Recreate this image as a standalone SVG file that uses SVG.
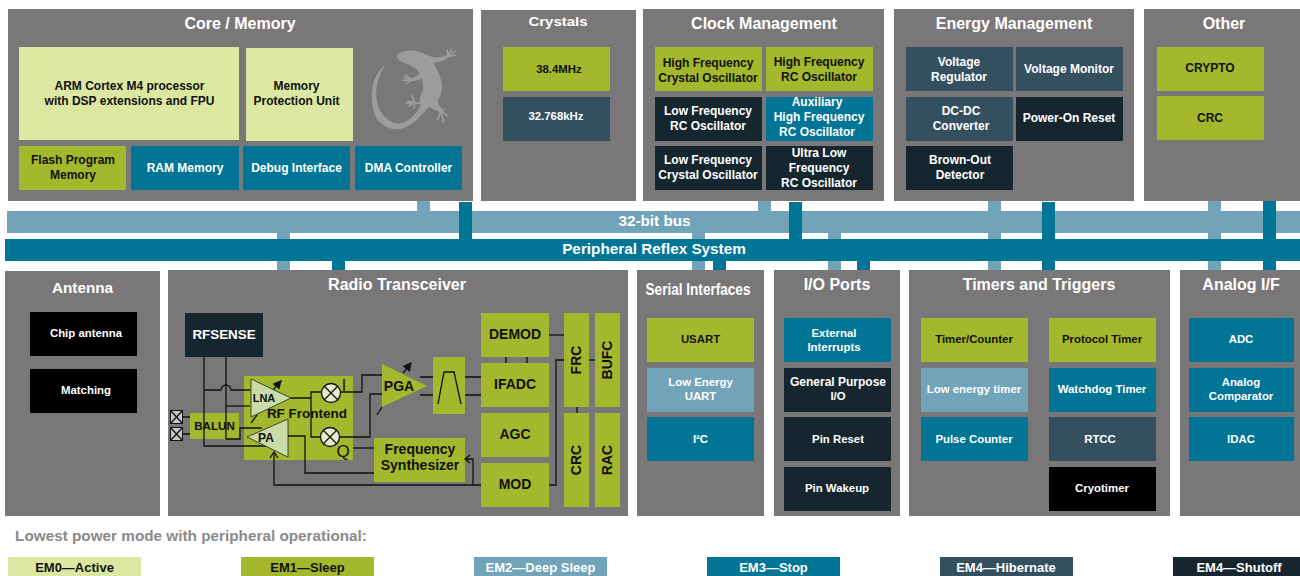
<svg xmlns="http://www.w3.org/2000/svg" width="1300" height="576" viewBox="0 0 1300 576">
<style>
text{font-family:"Liberation Sans",Arial,sans-serif;font-weight:bold;text-anchor:middle}
.p{fill:#7a7778}
.h{fill:#fff;font-size:16px}
.n{font-size:12px}
.s{font-size:11.4px}
.m{font-size:13px}
.w{fill:#fff}
.k{fill:#111}
.lg{fill:#dce8a2}.gr{fill:#a3b82c}.te{fill:#007596}.lb{fill:#71a3b9}.sl{fill:#34505f}.dk{fill:#16262f}.bl{fill:#000}
.c{fill:none;stroke:#111;stroke-width:1.3}
.tri{fill:#c9dba6;stroke:#222;stroke-width:.8}
.mx{fill:#e4eccb;stroke:#111;stroke-width:1.3}
.r{font-size:14px}
</style>
<defs>
<marker id="a" markerWidth="7" markerHeight="7" refX="6" refY="3.5" orient="auto"><path d="M0 0L7 3.5L0 7Z" fill="#111"/></marker>
<marker id="o" markerWidth="8" markerHeight="8" refX="1" refY="4" orient="auto"><path d="M7 0L1 4L7 8" fill="none" stroke="#111" stroke-width="1.2"/></marker>
</defs>
<rect width="1300" height="576" fill="#fff"/>

<g id="buses">
<rect class="lb" x="7" y="211" width="1293" height="22"/>
<g class="lb"><rect x="417" y="201" width="13" height="10"/><rect x="758" y="201" width="13" height="10"/><rect x="988" y="201" width="13" height="70"/><rect x="1208" y="201" width="13" height="69"/><rect x="277" y="233" width="13" height="37"/><rect x="692" y="233" width="13" height="37"/><rect x="828" y="233" width="13" height="37"/></g>
<rect class="te" x="5" y="239" width="1295" height="22"/>
<g class="te"><rect x="459" y="202" width="13" height="37"/><rect x="789" y="202" width="13" height="37"/><rect x="1042" y="202" width="13" height="69"/><rect x="1263" y="201" width="13" height="69"/><rect x="332" y="261" width="13" height="9"/><rect x="713" y="261" width="13" height="9"/><rect x="857" y="261" width="13" height="9"/></g>
<text class="w" x="654.500" y="226" font-size="15.300px">32-bit bus</text>
<text class="w" x="654" y="254" font-size="15.300px">Peripheral Reflex System</text>
</g>

<g id="core"><rect class="p" x="8" y="9" width="465" height="192"/><text class="h" x="240" y="29">Core / Memory</text>
<rect class="lg" x="19" y="47" width="220" height="93"/><text class="n k" x="129.500" y="90">ARM Cortex M4 processor</text><text class="n k" x="129.500" y="105">with DSP extensions and FPU</text>
<rect class="lg" x="246" y="48" width="107" height="93"/><text class="n k" x="296.500" y="90">Memory</text><text class="n k" x="296.500" y="105">Protection Unit</text>
<rect class="gr" x="19" y="146" width="107" height="44"/><text class="n k" x="73" y="164">Flash Program</text><text class="n k" x="73" y="179">Memory</text>
<rect class="te" x="131" y="146" width="108" height="44"/><text class="n w" x="185" y="172">RAM Memory</text>
<rect class="te" x="243" y="146" width="107" height="44"/><text class="n w" x="296.500" y="172">Debug Interface</text>
<rect class="te" x="355" y="146" width="107" height="44"/><text class="n w" x="408.500" y="172">DMA Controller</text>
<g id="gecko" transform="translate(365 40) scale(.3333)"><path fill="#9c9c9c" d="M95 46C105 36 125 30 145 32C165 34 185 44 200 50C215 53 232 53 248 44L252 52C240 62 222 68 205 68C218 90 230 115 231 140C231 160 222 172 218 186C222 197 228 204 236 212L225 216C214 212 205 208 192 200C170 225 145 255 110 266C85 272 55 262 38 240C20 215 16 170 25 130C30 110 42 90 60 74C45 100 32 135 34 170C36 205 55 235 85 248C110 256 135 240 150 222C160 211 167 200 168 190C162 180 163 170 172 158C176 145 175 130 170 115C160 120 150 124 138 124L136 116C148 114 158 108 163 100C155 85 140 76 120 70C105 65 95 58 95 46Z"/><g fill="none" stroke="#9c9c9c" stroke-width="5" stroke-linecap="round"><path d="M248 46L247 30M249 46L259 28M250 47L270 34M250 49L271 45"/><path d="M140 120L118 113M140 120L114 121M140 120L124 131M140 120L120 103"/><path d="M168 190L148 188M150 188L127 183M150 188L124 190M150 188L132 198M150 188L147 204M150 188L140 167"/><path d="M228 212L218 240M228 212L236 247M228 212L248 228M228 212L238 208"/></g></g>
</g>

<g id="crystals"><rect class="p" x="481" y="10" width="155" height="191"/><text class="w" x="558" y="26" font-size="15px" style="font-size:15px;transform-origin:558px 26px;transform:scaleY(.9)">Crystals</text>
<rect class="gr" x="503" y="47" width="107" height="44"/><text class="s k" x="559" y="73">38.4MHz</text>
<rect class="sl" x="503" y="97" width="107" height="44"/><text class="s w" x="556" y="120">32.768kHz</text></g>

<g id="clock"><rect class="p" x="643" y="9" width="241" height="192"/><text class="h" x="764" y="29">Clock Management</text>
<rect class="gr" x="655" y="47" width="107" height="44"/><text class="n k" x="708" y="67">High Frequency</text><text class="n k" x="708" y="82">Crystal Oscillator</text>
<rect class="gr" x="766" y="47" width="107" height="44"/><text class="n k" x="819" y="66">High Frequency</text><text class="n k" x="819" y="81">RC Oscillator</text>
<rect class="dk" x="655" y="97" width="107" height="44"/><text class="n w" x="708" y="115">Low Frequency</text><text class="n w" x="708" y="130">RC Oscillator</text>
<rect class="te" x="766" y="97" width="107" height="44"/><text class="n w" x="817" y="106">Auxiliary</text><text class="n w" x="819" y="121">High Frequency</text><text class="n w" x="817" y="136">RC Oscillator</text>
<rect class="dk" x="655" y="146" width="107" height="44"/><text class="n w" x="708" y="164">Low Frequency</text><text class="n w" x="708" y="179">Crystal Oscillator</text>
<rect class="dk" x="766" y="146" width="107" height="44"/><text class="n w" x="819" y="157">Ultra Low</text><text class="n w" x="819" y="172">Frequency</text><text class="n w" x="819" y="187">RC Oscillator</text></g>

<g id="energy"><rect class="p" x="894" y="9" width="240" height="192"/><text class="h" x="1014" y="29">Energy Management</text>
<rect class="sl" x="906" y="47" width="107" height="44"/><text class="n w" x="959" y="66">Voltage</text><text class="n w" x="959" y="81">Regulator</text>
<rect class="sl" x="1016" y="47" width="107" height="44"/><text class="n w" x="1069" y="73">Voltage Monitor</text>
<rect class="sl" x="906" y="97" width="107" height="44"/><text class="n w" x="961" y="115">DC-DC</text><text class="n w" x="961" y="130">Converter</text>
<rect class="dk" x="1016" y="97" width="107" height="44"/><text class="n w" x="1069" y="122">Power-On Reset</text>
<rect class="dk" x="906" y="146" width="107" height="44"/><text class="n w" x="960" y="164">Brown-Out</text><text class="n w" x="960" y="179">Detector</text></g>

<g id="other"><rect class="p" x="1144" y="9" width="156" height="192"/><text class="h" x="1224" y="29">Other</text>
<rect class="gr" x="1157" y="47" width="107" height="44"/><text class="n k" x="1210" y="72">CRYPTO</text>
<rect class="gr" x="1157" y="96" width="107" height="44"/><text class="n k" x="1210" y="122">CRC</text></g>

<g id="antenna"><rect class="p" x="5" y="271" width="155" height="245"/><text class="h" x="82.500" y="293" style="font-size:15.300px">Antenna</text>
<rect class="bl" x="30" y="312" width="107" height="44"/><text class="s w" x="86" y="337">Chip antenna</text>
<rect class="bl" x="30" y="369" width="107" height="44"/><text class="s w" x="86" y="394">Matching</text></g>

<g id="radio"><rect class="p" x="168" y="270" width="460" height="246"/><text class="h" x="397" y="290">Radio Transceiver</text>
<rect class="gr" x="244" y="376" width="109" height="84"/>
<rect class="gr" x="433" y="357" width="32" height="57"/>
<rect class="gr" x="190" y="413" width="49" height="26"/>
<rect class="gr" x="374" y="438" width="91" height="44"/>
<g id="radio-wires" class="c">
<path d="M204 357V446H272"/><path d="M226 357V439"/>
<path d="M204 390H221A5 5 0 0 1 231 390H250"/><path d="M226 406H250"/>
<path d="M183 417H190M183 434H190"/>
<path d="M226 439H240V428H262"/>
<path d="M291 398H311M321 392H311V437H320"/>
<path d="M341 392H362V375H382"/><path d="M340 437H370V394H382"/>
<path d="M353 448H374"/>
<path d="M420 377H433M420 395H433"/><path d="M465 377H481M465 395H481"/>
<path d="M374 473H305V436H288" marker-end="url(#o)"/>
<path d="M481 485H274V453"/>
<path d="M473 485V459H466"/>
<path d="M270 458L274 452L278 458"/>
<path d="M470 455L465 459L470 463"/>
<path d="M549 335H564"/><path d="M506 357V363M527 357V363"/><path d="M549 485H556V360H564"/><path d="M589 360H595"/><path d="M577 407V413"/>
<path d="M438 404L444 372H454L461 404"/>
<path d="M273 390L281 381" marker-end="url(#a)"/><path d="M251 423L257 415"/>
<path d="M403 373L411 363" marker-end="url(#a)"/><path d="M377 415L382 407"/>
</g>
<path class="tri" d="M251 379L291 398L251 417Z"/>
<path class="tri" d="M247 437L288 419V457Z"/>
<path d="M382 364L427 386L382 407Z" fill="#a3b82c"/>
<g id="mixers"><circle class="mx" cx="331" cy="393" r="9.500"/><path class="c" d="M324.300 386.300L337.700 399.700M337.700 386.300L324.300 399.700"/><circle class="mx" cx="330" cy="437" r="9.500"/><path class="c" d="M323.300 430.300L336.700 443.700M336.700 430.300L323.300 443.700"/></g>
<g id="pads"><rect x="170.500" y="410.500" width="12" height="13" fill="#c5c8c0" stroke="#111"/><path class="c" d="M170.500 410.500L182.500 423.500M182.500 410.500L170.500 423.500"/><rect x="170.500" y="427.500" width="12" height="13" fill="#c5c8c0" stroke="#111"/><path class="c" d="M170.500 427.500L182.500 440.500M182.500 427.500L170.500 440.500"/></g>
<rect class="dk" x="185" y="313" width="78" height="44"/><text class="w" x="224" y="339" font-size="13.400px">RFSENSE</text>
<text class="k" x="264" y="402" font-size="11px">LNA</text><text class="k" x="266" y="442" font-size="12px">PA</text>
<text class="k" x="307" y="418" font-size="13.500px">RF Frontend</text>
<text class="k" x="344" y="391" font-size="16px" style="font-weight:normal">I</text><text class="k" x="343" y="457" font-size="17px" style="font-weight:normal">Q</text>
<text class="k" x="399" y="391" font-size="14px">PGA</text>
<text class="k" x="420" y="454" font-size="14px">Frequency</text><text class="k" x="420" y="470" font-size="14px">Synthesizer</text>
<text class="k" x="214.500" y="430" font-size="11.600px">BALUN</text>
<rect class="gr" x="481" y="313" width="68" height="44"/><text class="k r" x="515" y="339">DEMOD</text>
<rect class="gr" x="481" y="363" width="68" height="44"/><text class="k r" x="515" y="389">IFADC</text>
<rect class="gr" x="481" y="413" width="68" height="44"/><text class="k r" x="515" y="439">AGC</text>
<rect class="gr" x="481" y="463" width="68" height="44"/><text class="k r" x="515" y="489">MOD</text>
<rect class="gr" x="564" y="313" width="25" height="94"/><text class="k r" transform="translate(581 360) rotate(-90)">FRC</text>
<rect class="gr" x="595" y="313" width="25" height="94"/><text class="k r" transform="translate(612 360) rotate(-90)">BUFC</text>
<rect class="gr" x="564" y="413" width="25" height="94"/><text class="k r" transform="translate(581 460) rotate(-90)">CRC</text>
<rect class="gr" x="595" y="413" width="25" height="94"/><text class="k r" transform="translate(612 460) rotate(-90)">RAC</text>
</g>

<g id="serial"><rect class="p" x="637" y="270" width="127" height="246"/><text class="h" x="698" y="295" transform="translate(698 0) scale(.85 1) translate(-698 0)">Serial Interfaces</text>
<rect class="gr" x="647" y="318" width="107" height="44"/><text class="s k" x="700.500" y="343">USART</text>
<rect class="lb" x="647" y="368" width="107" height="44"/><text class="s w" x="700.500" y="386">Low Energy</text><text class="s w" x="700.500" y="400">UART</text>
<rect class="te" x="647" y="417" width="107" height="44"/><text class="s w" x="700.500" y="443">I²C</text></g>

<g id="io"><rect class="p" x="774" y="270" width="126" height="246"/><text class="h" x="837" y="290">I/O Ports</text>
<rect class="te" x="784" y="318" width="107" height="44"/><text class="s w" x="834" y="337">External</text><text class="s w" x="834" y="351">Interrupts</text>
<rect class="dk" x="784" y="368" width="107" height="44"/><text class="n w" x="838" y="386">General Purpose</text><text class="s w" x="838" y="400">I/O</text>
<rect class="dk" x="784" y="417" width="107" height="44"/><text class="s w" x="838" y="443">Pin Reset</text>
<rect class="dk" x="784" y="467" width="107" height="44"/><text class="s w" x="837" y="492">Pin Wakeup</text></g>

<g id="timers"><rect class="p" x="909" y="270" width="261" height="246"/><text class="h" x="1039" y="290">Timers and Triggers</text>
<rect class="gr" x="921" y="318" width="107" height="44"/><text class="s k" x="974" y="343">Timer/Counter</text>
<rect class="lb" x="921" y="368" width="107" height="44"/><text class="s w" x="974" y="393">Low energy timer</text>
<rect class="te" x="921" y="417" width="107" height="44"/><text class="s w" x="974" y="443">Pulse Counter</text>
<rect class="gr" x="1049" y="318" width="107" height="44"/><text class="s k" x="1102" y="343">Protocol Timer</text>
<rect class="te" x="1049" y="368" width="107" height="44"/><text class="s w" x="1102" y="393">Watchdog Timer</text>
<rect class="sl" x="1049" y="417" width="107" height="44"/><text class="s w" x="1100" y="443">RTCC</text>
<rect class="bl" x="1049" y="467" width="107" height="44"/><text class="s w" x="1102" y="492">Cryotimer</text></g>

<g id="analog"><rect class="p" x="1180" y="270" width="120" height="246"/><text class="h" x="1241" y="290">Analog I/F</text>
<rect class="te" x="1189" y="318" width="105" height="44"/><text class="s w" x="1241" y="343">ADC</text>
<rect class="te" x="1189" y="368" width="105" height="44"/><text class="s w" x="1241" y="386">Analog</text><text class="s w" x="1241" y="400">Comparator</text>
<rect class="te" x="1189" y="417" width="105" height="44"/><text class="s w" x="1241" y="443">IDAC</text></g>

<g id="legend"><text x="191" y="541" font-size="15.300px" fill="#8a8a8a">Lowest power mode with peripheral operational:</text>
<rect class="lg" x="8" y="557" width="133" height="19"/><text class="m k" x="74.500" y="572">EM0—Active</text>
<rect class="gr" x="241" y="557" width="133" height="19"/><text class="m k" x="307.500" y="572">EM1—Sleep</text>
<rect class="lb" x="474" y="557" width="133" height="19"/><text class="m w" x="540.500" y="572">EM2—Deep Sleep</text>
<rect class="te" x="707" y="557" width="133" height="19"/><text class="m w" x="773.500" y="572">EM3—Stop</text>
<rect class="sl" x="940" y="557" width="133" height="19"/><text class="m w" x="1006" y="572">EM4—Hibernate</text>
<rect class="dk" x="1173" y="557" width="127" height="19"/><text class="m w" x="1239" y="572">EM4—Shutoff</text></g>
</svg>
